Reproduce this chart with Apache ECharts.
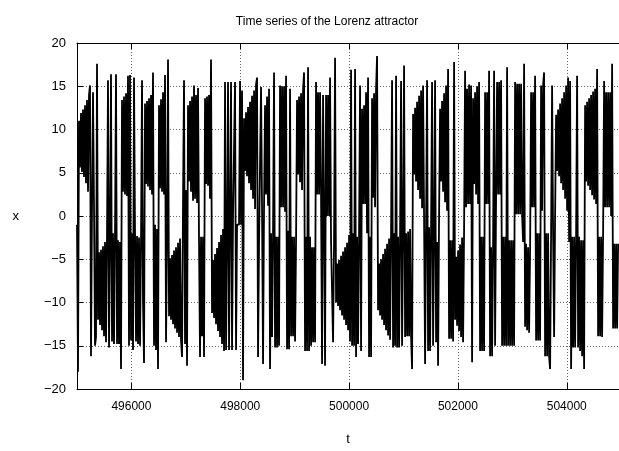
<!DOCTYPE html>
<html>
<head>
<meta charset="utf-8">
<script src="https://cdn.jsdelivr.net/npm/echarts@6/dist/echarts.min.js"></script>
<style>html,body{margin:0;padding:0;background:#fff}#c{width:619px;height:451px}</style>
</head>
<body>
<div id="c"></div>
<script>
// Sampled time axis: first sample and spacing of the readings (t units)
const tStart = 495000;
const tStep = 18.38;
// x(t) readings, in order, split in five pieces
const xPart1 = [-1,-18,11,5.6,11.9,5.1,12.3,4.5,12.8,3.8,13.4,2.8,14.0,15.1,-16.2,1,14.3,1,-15,-14,17.6,-12,-4.2,-12.6,-3.9,-13.2,-3.5,-13.9,-3.0,-14.6,-2.4,15.7,-15.2,-3,16.4,-14.5,-2,-14.8,-2,16.4,-14.8,-2.8,-14.8,-3,-17.7,13.4,2.8,13.8,2.5,14.2,2.3,16.2,-15,16.3,-14.4,-2,-15.5,16,-2,-14.5,-2.3,-14.8,-2.5,-15,-3,15.7,-10,-17,13.0,3.7,13.3,3.4,13.6,3.0,14.0,2.5,16.6,-15,-1,-15.5,-1.5,-17.7,12.8,3.2,13.5,2.8,14.3,2.5,16.3,-14.6,-3,18.1,-11.6,-4.9,-12.0,-4.5,-12.5,-4.0,-13.0,-3.6,-13.5,-3.1,-14.0,-2.6,-14.4,-16.3,1.5,15.7];
const xPart2 = [-14.8,3,-17.3,12.8,4.0,13.3,2.8,13.8,1.75,15.1,2.0,14.0,1.5,14.8,-3,-16.3,-2.4,-13.9,-2.4,-16.3,13.6,3.7,13.8,3.5,14,2,18.1,-11.2,-5.1,-11.8,-4.4,-12.5,-3.7,-13.3,-3.0,-14.0,-2.2,-14.8,-1.5,-15.6,15.5,-15.5,-3,15.5,-15.5,0,15.5,-15.5,0,0,15.5,-15.5,-1,-1,-1,15.6,-1,14.5,-19,11.3,5.2,12.0,4.6,12.6,3.8,13.2,3.0,13.9,2.0,14.5,0.8,15.2,16,-16.3,-3,-3,14.9,1,-17.1,1,12.8,2.5,13.8,1.2,14.7,-17.7,-2,-14,-2,16.6,-15.2,-2.4,-15.2,-2.4,-15,15.1,1,15,1,15,0.5,16.2,-15.4,-1.7,-15.4,14.7,-13.9,-2.4];
const xPart3 = [-13.9,-2.4,-14.5,-3,13.4,4.8,13.8,3.9,14.2,3.0,14.5,16.6,-15.6,-2.4,-15.6,17.2,-15.6,-2.4,-15,-3.6,-14.6,-3.6,-14.6,15.5,2.5,14.3,2.5,14.3,2.5,-17.1,14,0,-17.3,14,0,14,0,16,-3,-3,-14.6,-3,18.3,-10,-5.5,-10.4,-5.1,-10.9,-4.6,-11.5,-4.1,-12,-3.6,-12.6,-3.1,-13.2,-2.2,-14.5,16.9,-15,-2,-15,17,-16.3,-2.4,-14.8,-2.4,15.1,-15.6,12.4,1.4,12.8,1.4,14.3,-2,16,-16.3,-2.4,-16.3,13.6,2.1,14.2,1.0,14.7,18.5,-10.9,-5.5,-11.5,-5.0,-12.0,-4.4,-12.6,-3.8,-13.2,-3.2,-13.8,-2.6,-14.3,-2.0,15.7,-15.2,-2,-15,16.2,-15.2,-2.4,-15.2,-2.4];
const xPart4 = [15.6,-15,-2,17.4,-14,-2,-13.9,-1.8,-13.9,-1.5,-13.9,-17.7,11.8,4.8,12.5,4.0,13.2,3.0,13.9,2.0,14.5,0.9,15.1,-0.2,-17.1,-1,15.7,-15.6,-1.3,-15.6,-1.3,15.5,-15,-2,15.7,-14.6,-3,-17.3,0,12.4,4.0,13.3,2.8,14.2,1.6,15.1,0.6,17,-14.2,-2.8,-14.2,-2.8,-14.5,17.8,-12,-4.7,-12.7,-4.0,-13.3,-3.3,-14.0,-2.5,-14.6,-1.7,16.8,1,14.7,1.4,15.2,1.4,15.1,-16.9,13.6,3.7,14.3,2.5,15,1.4,15.5,-15.6,-2.4,-15.6,-2.4,-15.6,14.3,1.4,14.3,1.4,16.8,-16.2,-3.6,-16.2,-3.6,16.8,-15,2.5,15.5,2.5,15.5,2.5,15.7,-15,-2.4,-15,-2.4,-15,17.2,-15];
const xPart5 = [-2.8,-15,-2.8,-15,-2.8,-15,15.5,0.2,15.3,0.2,15.3,0.2,15.3,0.2,-3,17.6,-12.8,-3.2,-13.2,-3.6,-13.5,-4,14.3,1,14.3,1,16.2,-14.4,-2,-14.4,-2,-14.4,15.1,0.6,15.1,16.6,-16.2,-2,-16.2,-2,-16.2,-17.7,-2,15.1,-2,-14,0,11.7,5.2,12.3,4.6,13.0,3.8,13.6,3.0,14.3,2.0,15.1,0.6,16,-3,15.6,-17.7,-2.4,-15.2,-2.4,-15.2,-2.4,16.2,-15.2,-2.4,-15.6,-2.8,-16.2,-2.8,-17.7,12.8,4.0,13.2,3.5,13.6,3.0,14.0,2.4,14.4,1.9,14.7,1.4,17,-13.9,-2.4,-13.9,-2.4,-14,-2,15.6,1,14.3,1,14.3,1,14.3,0,17.6,-13,-3.2,-13,-3.2,-13,-3.2];
// Axis ticks
const xTicks = [496000, 498000, 500000, 502000, 504000];
const yTicks = [-20, -15, -10, -5, 0, 5, 10, 15, 20];

const xs = [].concat(xPart1, xPart2, xPart3, xPart4, xPart5);
const data = xs.map((v, i) => [tStart + i * tStep, v]);

const font = '"Liberation Sans", Arial, Helvetica, sans-serif';
const chart = echarts.init(document.getElementById('c'), null, {renderer: 'canvas'});
const gridStyle = {type: [1, 2], color: '#666', width: 1};
chart.setOption({
  animation: false,
  backgroundColor: '#fff',
  title: {
    text: 'Time series of the Lorenz attractor',
    left: 322, top: 11, textAlign: 'center',
    textStyle: {fontFamily: font, fontSize: 12, fontWeight: 'normal', color: '#000'}
  },
  grid: {left: 77, right: 0, top: 43, bottom: 57, containLabel: false},
  xAxis: [{
    type: 'value', min: 495000, max: 504960,
    name: 't', nameLocation: 'middle', nameGap: 44,
    nameTextStyle: {fontFamily: font, fontSize: 13, color: '#000'},
    axisLine: {show: true, onZero: false, lineStyle: {color: '#000', width: 1}},
    axisTick: {show: true, inside: true, length: 6, lineStyle: {color: '#000'}, customValues: xTicks},
    axisLabel: {fontFamily: font, fontSize: 12, color: '#000', margin: 12, customValues: xTicks, formatter: v => String(v)},
    splitLine: {show: true, lineStyle: gridStyle}
  }, {
    type: 'value', min: 495000, max: 504960, position: 'top',
    axisLine: {show: true, onZero: false, lineStyle: {color: '#000', width: 1}},
    axisTick: {show: true, inside: true, length: 6, lineStyle: {color: '#000'}, customValues: xTicks},
    axisLabel: {show: false},
    splitLine: {show: false}
  }],
  yAxis: {
    type: 'value', min: -20, max: 20, interval: 5,
    name: 'x', nameLocation: 'middle', nameGap: 58, nameRotate: 0,
    nameTextStyle: {fontFamily: font, fontSize: 13, color: '#000'},
    axisLine: {show: true, onZero: false, lineStyle: {color: '#000', width: 1}},
    axisTick: {show: true, inside: true, length: 6, lineStyle: {color: '#000'}},
    axisLabel: {fontFamily: font, fontSize: 13, color: '#000', margin: 11,
      formatter: v => String(v).replace('-', '\u2212')},
    splitLine: {show: true, lineStyle: gridStyle}
  },
  series: [{
    type: 'line', data: data, xAxisIndex: 0,
    showSymbol: false, symbol: 'none', sampling: null,
    lineStyle: {color: '#000', width: 1.8},
    clip: true
  }]
});
</script>
</body>
</html>
